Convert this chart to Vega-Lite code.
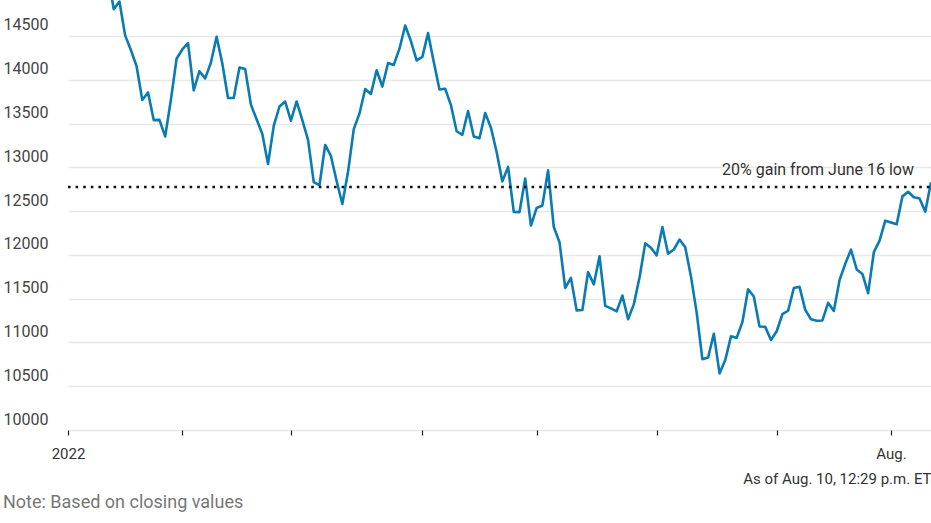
{
  "$schema": "https://vega.github.io/schema/vega-lite/v6.json",
  "width": 931,
  "height": 430,
  "autosize": {"type": "none"},
  "padding": {"left": 0, "right": 0, "top": 0, "bottom": 93},
  "background": "white",
  "config": {
    "view": {"stroke": null},
    "font": "Roboto",
    "axis": {"labelFont": "Roboto", "titleFont": "Roboto"}
  },
  "title": {
    "text": "Note: Based on closing values",
    "orient": "bottom",
    "anchor": "start",
    "fontSize": 18,
    "fontWeight": "normal",
    "color": "#777777",
    "font": "Roboto",
    "offset": 8,
    "dx": 3
  },
  "datasets": {
    "nasdaq": [
      {"date": "2022-01-03", "close": 15832.8},
      {"date": "2022-01-04", "close": 15622.7},
      {"date": "2022-01-05", "close": 15100.2},
      {"date": "2022-01-06", "close": 15080.9},
      {"date": "2022-01-07", "close": 14935.9},
      {"date": "2022-01-10", "close": 14942.8},
      {"date": "2022-01-11", "close": 15153.5},
      {"date": "2022-01-12", "close": 15188.4},
      {"date": "2022-01-13", "close": 14806.8},
      {"date": "2022-01-14", "close": 14893.8},
      {"date": "2022-01-18", "close": 14506.9},
      {"date": "2022-01-19", "close": 14340.3},
      {"date": "2022-01-20", "close": 14154.0},
      {"date": "2022-01-21", "close": 13768.9},
      {"date": "2022-01-24", "close": 13855.1},
      {"date": "2022-01-25", "close": 13539.3},
      {"date": "2022-01-26", "close": 13542.1},
      {"date": "2022-01-27", "close": 13352.8},
      {"date": "2022-01-28", "close": 13770.6},
      {"date": "2022-01-31", "close": 14239.9},
      {"date": "2022-02-01", "close": 14346.0},
      {"date": "2022-02-02", "close": 14417.6},
      {"date": "2022-02-03", "close": 13878.8},
      {"date": "2022-02-04", "close": 14098.0},
      {"date": "2022-02-07", "close": 14015.7},
      {"date": "2022-02-08", "close": 14194.5},
      {"date": "2022-02-09", "close": 14490.4},
      {"date": "2022-02-10", "close": 14185.6},
      {"date": "2022-02-11", "close": 13791.2},
      {"date": "2022-02-14", "close": 13790.9},
      {"date": "2022-02-15", "close": 14139.8},
      {"date": "2022-02-16", "close": 14124.1},
      {"date": "2022-02-17", "close": 13716.7},
      {"date": "2022-02-18", "close": 13548.1},
      {"date": "2022-02-22", "close": 13381.5},
      {"date": "2022-02-23", "close": 13037.5},
      {"date": "2022-02-24", "close": 13473.6},
      {"date": "2022-02-25", "close": 13694.6},
      {"date": "2022-02-28", "close": 13751.4},
      {"date": "2022-03-01", "close": 13532.5},
      {"date": "2022-03-02", "close": 13752.0},
      {"date": "2022-03-03", "close": 13537.9},
      {"date": "2022-03-04", "close": 13313.4},
      {"date": "2022-03-07", "close": 12831.0},
      {"date": "2022-03-08", "close": 12795.6},
      {"date": "2022-03-09", "close": 13255.6},
      {"date": "2022-03-10", "close": 13130.0},
      {"date": "2022-03-11", "close": 12843.8},
      {"date": "2022-03-14", "close": 12581.2},
      {"date": "2022-03-15", "close": 12948.6},
      {"date": "2022-03-16", "close": 13436.6},
      {"date": "2022-03-17", "close": 13614.8},
      {"date": "2022-03-18", "close": 13893.8},
      {"date": "2022-03-21", "close": 13838.5},
      {"date": "2022-03-22", "close": 14108.8},
      {"date": "2022-03-23", "close": 13922.6},
      {"date": "2022-03-24", "close": 14191.8},
      {"date": "2022-03-25", "close": 14169.3},
      {"date": "2022-03-28", "close": 14354.9},
      {"date": "2022-03-29", "close": 14619.6},
      {"date": "2022-03-30", "close": 14442.3},
      {"date": "2022-03-31", "close": 14220.5},
      {"date": "2022-04-01", "close": 14261.5},
      {"date": "2022-04-04", "close": 14532.6},
      {"date": "2022-04-05", "close": 14204.2},
      {"date": "2022-04-06", "close": 13888.8},
      {"date": "2022-04-07", "close": 13897.3},
      {"date": "2022-04-08", "close": 13711.0},
      {"date": "2022-04-11", "close": 13412.0},
      {"date": "2022-04-12", "close": 13371.6},
      {"date": "2022-04-13", "close": 13643.6},
      {"date": "2022-04-14", "close": 13351.1},
      {"date": "2022-04-18", "close": 13332.4},
      {"date": "2022-04-19", "close": 13619.7},
      {"date": "2022-04-20", "close": 13453.1},
      {"date": "2022-04-21", "close": 13174.7},
      {"date": "2022-04-22", "close": 12839.3},
      {"date": "2022-04-25", "close": 13004.9},
      {"date": "2022-04-26", "close": 12490.7},
      {"date": "2022-04-27", "close": 12488.9},
      {"date": "2022-04-28", "close": 12871.5},
      {"date": "2022-04-29", "close": 12334.6},
      {"date": "2022-05-02", "close": 12536.0},
      {"date": "2022-05-03", "close": 12563.8},
      {"date": "2022-05-04", "close": 12964.9},
      {"date": "2022-05-05", "close": 12317.7},
      {"date": "2022-05-06", "close": 12144.7},
      {"date": "2022-05-09", "close": 11623.3},
      {"date": "2022-05-10", "close": 11737.7},
      {"date": "2022-05-11", "close": 11364.2},
      {"date": "2022-05-12", "close": 11371.0},
      {"date": "2022-05-13", "close": 11805.0},
      {"date": "2022-05-16", "close": 11662.8},
      {"date": "2022-05-17", "close": 11984.5},
      {"date": "2022-05-18", "close": 11418.2},
      {"date": "2022-05-19", "close": 11388.5},
      {"date": "2022-05-20", "close": 11354.6},
      {"date": "2022-05-23", "close": 11535.3},
      {"date": "2022-05-24", "close": 11264.5},
      {"date": "2022-05-25", "close": 11434.7},
      {"date": "2022-05-26", "close": 11740.7},
      {"date": "2022-05-27", "close": 12131.1},
      {"date": "2022-05-31", "close": 12081.4},
      {"date": "2022-06-01", "close": 11994.5},
      {"date": "2022-06-02", "close": 12316.9},
      {"date": "2022-06-03", "close": 12012.7},
      {"date": "2022-06-06", "close": 12061.4},
      {"date": "2022-06-07", "close": 12175.2},
      {"date": "2022-06-08", "close": 12086.3},
      {"date": "2022-06-09", "close": 11754.2},
      {"date": "2022-06-10", "close": 11340.0},
      {"date": "2022-06-13", "close": 10809.2},
      {"date": "2022-06-14", "close": 10828.4},
      {"date": "2022-06-15", "close": 11099.2},
      {"date": "2022-06-16", "close": 10646.1},
      {"date": "2022-06-17", "close": 10798.4},
      {"date": "2022-06-21", "close": 11069.3},
      {"date": "2022-06-22", "close": 11053.1},
      {"date": "2022-06-23", "close": 11232.2},
      {"date": "2022-06-24", "close": 11607.6},
      {"date": "2022-06-27", "close": 11524.6},
      {"date": "2022-06-28", "close": 11181.5},
      {"date": "2022-06-29", "close": 11177.9},
      {"date": "2022-06-30", "close": 11028.7},
      {"date": "2022-07-01", "close": 11127.9},
      {"date": "2022-07-05", "close": 11322.2},
      {"date": "2022-07-06", "close": 11361.9},
      {"date": "2022-07-07", "close": 11621.4},
      {"date": "2022-07-08", "close": 11635.3},
      {"date": "2022-07-11", "close": 11372.6},
      {"date": "2022-07-12", "close": 11264.7},
      {"date": "2022-07-13", "close": 11247.6},
      {"date": "2022-07-14", "close": 11251.2},
      {"date": "2022-07-15", "close": 11452.4},
      {"date": "2022-07-18", "close": 11360.1},
      {"date": "2022-07-19", "close": 11713.2},
      {"date": "2022-07-20", "close": 11897.7},
      {"date": "2022-07-21", "close": 12059.6},
      {"date": "2022-07-22", "close": 11834.1},
      {"date": "2022-07-25", "close": 11782.7},
      {"date": "2022-07-26", "close": 11562.6},
      {"date": "2022-07-27", "close": 12032.4},
      {"date": "2022-07-28", "close": 12162.6},
      {"date": "2022-07-29", "close": 12390.7},
      {"date": "2022-08-01", "close": 12369.0},
      {"date": "2022-08-02", "close": 12348.8},
      {"date": "2022-08-03", "close": 12668.2},
      {"date": "2022-08-04", "close": 12720.6},
      {"date": "2022-08-05", "close": 12657.6},
      {"date": "2022-08-08", "close": 12644.5},
      {"date": "2022-08-09", "close": 12493.9},
      {"date": "2022-08-10", "close": 12830.0}
    ],
    "threshold": [
      {"date": "2022-01-03", "level": 12775, "label": ""},
      {"date": "2022-08-10", "level": 12775, "label": "20% gain from June 16 low"}
    ]
  },
  "layer": [
    {
      "data": {"name": "nasdaq"},
      "mark": {"type": "line", "color": "#0a7bb3", "strokeWidth": 2.6, "clip": true, "strokeJoin": "round"},
      "encoding": {
        "x": {
          "field": "date",
          "type": "ordinal",
          "scale": {"type": "point", "padding": 0, "range": [68, 931]},
          "axis": {
            "values": ["2022-01-03", "2022-02-01", "2022-03-01", "2022-04-01", "2022-05-02", "2022-06-01", "2022-07-01", "2022-08-01"],
            "labelExpr": "datum.value == '2022-01-03' ? '2022' : (datum.value == '2022-08-01' ? 'Aug.' : '')",
            "labelAngle": 0,
            "labelFontSize": 15,
            "labelColor": "#333333",
            "labelPadding": 11,
            "ticks": true,
            "tickSize": 5,
            "tickColor": "#222222",
            "tickWidth": 1.2,
            "domain": false,
            "grid": false,
            "title": "As of Aug. 10, 12:29 p.m. ET",
            "titleAnchor": "end",
            "titleFontSize": 15,
            "titleFontWeight": "normal",
            "titleColor": "#333333",
            "titlePadding": 10
          }
        },
        "y": {
          "field": "close",
          "type": "quantitative",
          "scale": {"domain": [10000, 14911], "nice": false, "zero": false},
          "axis": {
            "values": [10000, 10500, 11000, 11500, 12000, 12500, 13000, 13500, 14000, 14500],
            "format": "d",
            "title": null,
            "domain": false,
            "ticks": false,
            "tickSize": 0,
            "labelAlign": "left",
            "labelBaseline": "alphabetic",
            "labelPadding": -3,
            "labelOffset": -6,
            "labelFontSize": 16,
            "labelColor": "#444444",
            "labelFlush": false,
            "labelOverlap": false,
            "grid": true,
            "gridColor": "#e8e8e8",
            "gridWidth": 1.6
          }
        }
      }
    },
    {
      "data": {"name": "threshold"},
      "mark": {"type": "line", "color": "#111111", "strokeWidth": 2.6, "strokeDash": [2.6, 5]},
      "encoding": {
        "x": {"field": "date", "type": "ordinal"},
        "y": {"field": "level", "type": "quantitative"}
      }
    },
    {
      "data": {"name": "threshold"},
      "mark": {"type": "text", "align": "right", "baseline": "alphabetic", "dx": -17, "dy": -12, "fontSize": 16, "color": "#333333", "font": "Roboto"},
      "encoding": {
        "x": {"field": "date", "type": "ordinal"},
        "y": {"field": "level", "type": "quantitative"},
        "text": {"field": "label"}
      }
    }
  ]
}
